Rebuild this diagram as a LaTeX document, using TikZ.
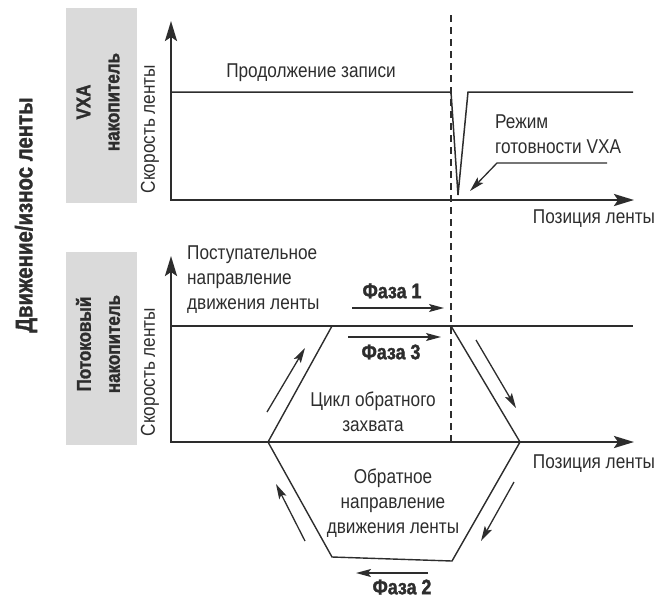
\documentclass[tikz,border=0pt]{standalone}
\usepackage{fontspec}
\setmainfont{Liberation Sans}[FakeStretch=0.86,BoldFeatures={FakeStretch=0.85,FakeBold=1.5}]
\usetikzlibrary{arrows.meta,positioning}
\definecolor{inkgray}{RGB}{45,45,45}
\definecolor{panelgray}{RGB}{218,218,218}
\newcommand{\phaselabel}[1]{\textbf{\fontsize{21}{23}\selectfont #1}}

\begin{document}
\begin{tikzpicture}[
    x=1pt,y=-1pt,
    every node/.style={text=inkgray,font=\fontsize{20}{25}\selectfont,inner sep=0pt},
    panel/.style={fill=panelgray,minimum width=71pt,minimum height=195pt},
    paneltext/.style={rotate=90,align=center,font=\bfseries\fontsize{20}{29}\selectfont},
    axislabel/.style={rotate=90},
    axis/.style={{Stealth[length=20pt,width=12pt,inset=4pt]}-{Stealth[length=20pt,width=12pt,inset=4pt]},
      line width=2.6pt,draw=inkgray},
    speedline/.style={line width=1.5pt,draw=inkgray,line join=miter},
    fastline/.style={line width=2.6pt,draw=inkgray},
    cycleline/.style={line width=1.4pt,draw=inkgray},
    marker/.style={line width=1.4pt,draw=inkgray,dash pattern=on 7pt off 5pt},
    arrow/.style={-{Stealth[length=15pt,width=8pt,inset=3pt]},line width=1.3pt,draw=inkgray}
  ]
    \useasboundingbox (0,0) rectangle (668,598);

    % title on the left
    \node[rotate=90,font=\bfseries\fontsize{24}{26}\selectfont] (title) at (26,215) {Движение/износ ленты};

    % VXA panel
    \node[panel] (vxapanel) at (101,105) {};
    \node[paneltext] (vxatext) at (98,102) {VXA\\накопитель};
    \coordinate (vtop) at (171,21);
    \coordinate (vend) at (634,200);
    \draw[axis] (vtop) |- (vend);
    \node[axislabel] (vspeed) at (150,129) {Скорость ленты};
    \node (vpos) at (594,219) {Позиция ленты};
    \coordinate (v0) at (171,92);
    \coordinate (vdip) at (451,92);
    \coordinate (vlow) at (458,195);
    \coordinate (vup) at (468,92);
    \coordinate (v1) at (633,92);
    \draw[speedline] (v0) -- (vdip) -- (vlow) -- (vup) -- (v1);
    \node (keep) at (311,73) {Продолжение записи};
    \node[anchor=west,align=left] (ready) at (495,134) {Режим\\готовности VXA};
    \coordinate (leadA) at (607,163);
    \coordinate (leadB) at (497,163);
    \coordinate (leadC) at (470,191);
    \draw[arrow] (leadA) -- (leadB) -- (leadC);

    % streaming panel
    \node[panel,minimum height=193pt] (strpanel) at (101,348) {};
    \node[paneltext] (strtext) at (98,344) {Потоковый\\накопитель};
    \coordinate (stop) at (171,256);
    \coordinate (send) at (634,442);
    \draw[axis] (stop) |- (send);
    \node[axislabel] (sspeed) at (150,372) {Скорость ленты};
    \node (spos) at (594,464) {Позиция ленты};
    \coordinate (s0) at (171,326);
    \coordinate (s1) at (633,326);
    \draw[fastline] (s0) -- (s1);
    \node[anchor=west,align=left] (fwd) at (187,280) {Поступательное\\направление\\движения ленты};

    % backhitch cycle
    \coordinate (h1) at (268,442);
    \coordinate (h2) at (332,326);
    \coordinate (h3) at (451,326);
    \coordinate (h4) at (520,442);
    \coordinate (h5) at (452,561);
    \coordinate (h6) at (332,557);
    \draw[cycleline] (h1) -- (h2);
    \draw[cycleline] (h3) -- (h4) -- (h5) -- (h6) -- (h1);
    \node[align=center] (cyc) at (373,412) {Цикл обратного\\захвата};
    \node[align=center] (rev) at (393,503) {Обратное\\направление\\движения ленты};

    % phase arrows
    \coordinate (p1a) at (352,308);
    \coordinate (p1b) at (444,308);
    \draw[arrow] (p1a) -- (p1b);
    \node (ph1) at (392,291) {\phaselabel{Фаза 1}};
    \coordinate (p3a) at (348,337);
    \coordinate (p3b) at (441,337);
    \draw[arrow] (p3a) -- (p3b);
    \node (ph3) at (391,352) {\phaselabel{Фаза 3}};
    \coordinate (p2a) at (428,573);
    \coordinate (p2b) at (356,573);
    \draw[arrow] (p2a) -- (p2b);
    \node (ph2) at (402,587) {\phaselabel{Фаза 2}};
    \coordinate (ua) at (267,412);
    \coordinate (ub) at (305,348);
    \draw[arrow] (ua) -- (ub);
    \coordinate (da) at (476,340);
    \coordinate (db) at (516,408);
    \draw[arrow] (da) -- (db);
    \coordinate (ea) at (514,482);
    \coordinate (eb) at (481,541);
    \draw[arrow] (ea) -- (eb);
    \coordinate (fa) at (305,541);
    \coordinate (fb) at (276,484);
    \draw[arrow] (fa) -- (fb);

    % position of the backhitch
    \coordinate (mtop) at (451,15);
    \coordinate (mbot) at (451,442);
    \draw[marker] (mtop) -- (mbot);
  \end{tikzpicture}
\end{document}
